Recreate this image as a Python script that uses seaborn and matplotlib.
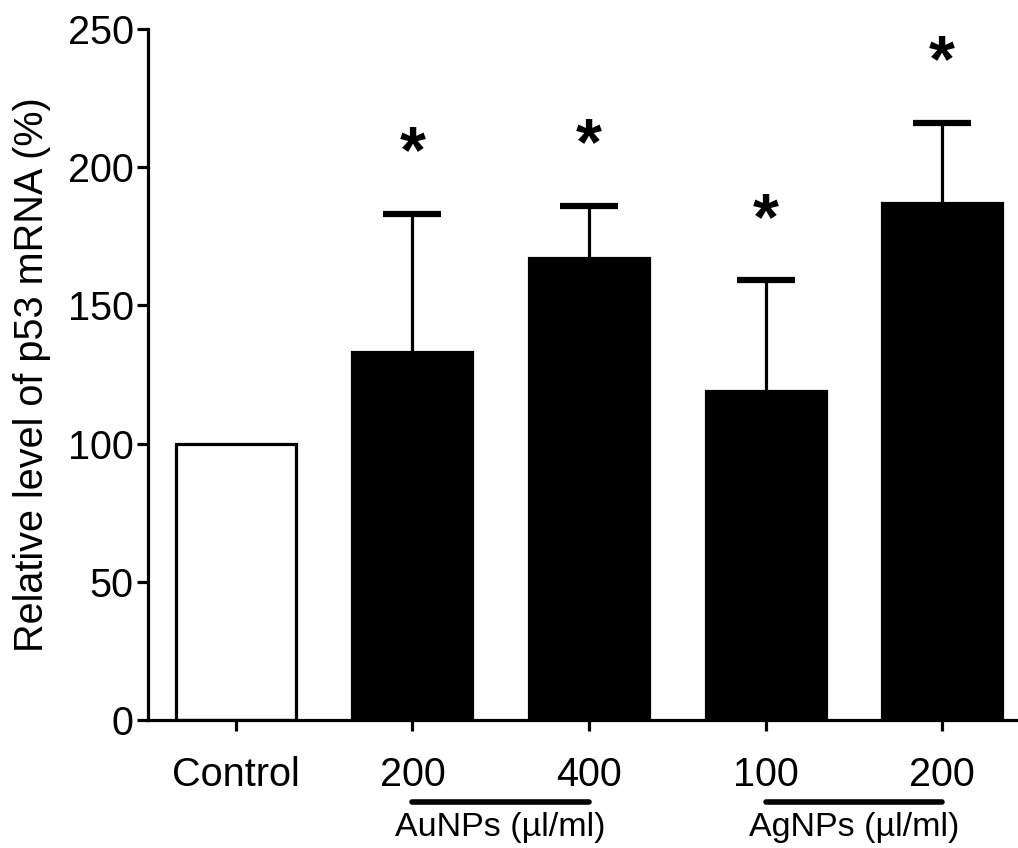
import numpy as np
import pandas as pd
import matplotlib
matplotlib.use('Agg')
import matplotlib.pyplot as plt
import matplotlib.transforms as mtransforms
import seaborn as sns

sns.set_style('ticks', {'axes.edgecolor': 'black', 'text.color': 'black',
                        'xtick.color': 'black', 'ytick.color': 'black',
                        'axes.labelcolor': 'black'})
plt.rcParams['font.family'] = ['Liberation Sans', 'DejaVu Sans']

# data
groups = ['Control', 'Au200', 'Au400', 'Ag100', 'Ag200']
tick_labels = ['Control', '200', '400', '100', '200']
means = [100, 133, 167, 119, 187]
sem = [0, 50, 19, 40, 29]
stars = ['', '*', '*', '*', '*']
bar_colors = ['white', 'black', 'black', 'black', 'black']

df = pd.DataFrame({'group': groups, 'value': means})

fig = plt.figure(figsize=(10.18, 8.48), dpi=100)
ax = fig.add_axes([0.145, 0.151, 0.855, 0.815])

sns.barplot(data=df, x='group', y='value', hue='group', palette=bar_colors,
            legend=False, width=0.68, edgecolor='black', linewidth=2.3,
            errorbar=None, ax=ax, zorder=2)

# upper error bars only, control has none
x = np.arange(len(groups))
eb = ax.errorbar(x[1:], means[1:], yerr=[np.zeros(4), sem[1:]], fmt='none',
                 ecolor='black', elinewidth=2.3, capsize=21, capthick=4.5,
                 zorder=1)
eb[1][0].set_visible(False)  # hide the lower caps sitting on the bar tops

for xi, m, s, st in zip(x, means, sem, stars):
    if st:
        ax.text(xi, m + s + 10, st, ha='center', va='bottom',
                fontsize=48, fontweight='bold')

ax.set_xlim(-0.5, 4.43)
ax.set_ylim(0, 250)
ax.set_yticks([0, 50, 100, 150, 200, 250])
ax.set_xticks(x)
ax.set_xticklabels(tick_labels)
ax.set_xlabel('')
ax.set_ylabel('Relative level of p53 mRNA (%)', fontsize=28.5, labelpad=12)
ax.tick_params(axis='both', labelsize=28.5, width=2.3, length=8, color='black')
ax.tick_params(axis='y', pad=2)
ax.tick_params(axis='x', pad=18)
for sp in ['left', 'bottom']:
    ax.spines[sp].set_linewidth(2.3)
sns.despine(ax=ax)

# group underlines and labels below the axis
trans = mtransforms.blended_transform_factory(ax.transData, fig.transFigure)
for (a, b), lab in [((1, 2), 'AuNPs (\u00b5l/ml)'), ((3, 4), 'AgNPs (\u00b5l/ml)')]:
    ax.plot([a, b], [0.054, 0.054], color='black', lw=4, transform=trans,
            clip_on=False, solid_capstyle='round')
    ax.text((a + b) / 2, 0.024, lab, ha='center', va='center', fontsize=24.5,
            transform=trans)

plt.savefig('out.png', dpi=100)
